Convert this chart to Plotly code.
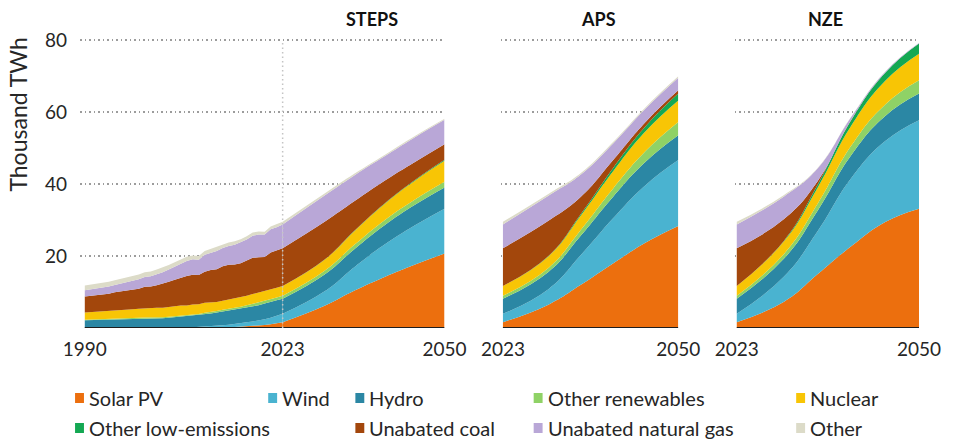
import plotly.graph_objects as go

# ---------------- data (thousand TWh) ----------------
hist_years = list(range(1990, 2024))
proj_years = [2023, 2030, 2035, 2040, 2045, 2050]

series_names = ["Solar PV", "Wind", "Hydro", "Other renewables", "Nuclear",
                "Other low-emissions", "Unabated coal", "Unabated natural gas", "Other"]
series_colors = ["#EC6F0E", "#4AB3D0", "#2B87A4", "#8FD266", "#F8C505",
                 "#14A853", "#A3470C", "#B9A7D7", "#DCDBC8"]

hist_solar = [0, 0, 0, 0, 0, 0, 0, 0, 0, 0, 0, 0, 0, 0, 0, 0, 0, 0, 0.01, 0.02,
              0.03, 0.06, 0.10, 0.14, 0.19, 0.25, 0.33, 0.44, 0.56, 0.68, 0.83, 1.02, 1.29, 1.63]
hist_wind = [0.00, 0.00, 0.00, 0.01, 0.01, 0.01, 0.01, 0.01, 0.02, 0.02, 0.03, 0.04, 0.05, 0.06,
             0.08, 0.10, 0.13, 0.17, 0.22, 0.28, 0.34, 0.44, 0.52, 0.64, 0.71, 0.83, 0.96, 1.13,
             1.27, 1.42, 1.59, 1.85, 2.10, 2.33]
hist_hydro = [2.16, 2.20, 2.20, 2.30, 2.30, 2.47, 2.50, 2.55, 2.58, 2.60, 2.66, 2.60, 2.65, 2.65,
              2.80, 2.92, 3.03, 3.08, 3.25, 3.25, 3.45, 3.50, 3.66, 3.79, 3.89, 3.89, 4.03, 4.07,
              4.20, 4.23, 4.36, 4.29, 4.33, 4.21]
hist_other_ren = [0.15, 0.15, 0.16, 0.17, 0.17, 0.18, 0.19, 0.20, 0.20, 0.21, 0.22, 0.22, 0.23,
                  0.25, 0.27, 0.28, 0.30, 0.32, 0.34, 0.36, 0.41, 0.44, 0.48, 0.52, 0.56, 0.59,
                  0.62, 0.66, 0.69, 0.72, 0.75, 0.78, 0.79, 0.80]
hist_nuclear = [2.00, 2.10, 2.12, 2.18, 2.23, 2.33, 2.41, 2.39, 2.43, 2.51, 2.59, 2.65, 2.69, 2.64,
                2.74, 2.77, 2.79, 2.72, 2.73, 2.70, 2.76, 2.58, 2.46, 2.48, 2.54, 2.57, 2.61, 2.64,
                2.71, 2.79, 2.69, 2.80, 2.68, 2.74]
hist_other_low = [0.0] * 34
hist_coal = [4.43, 4.50, 4.60, 4.75, 4.85, 4.95, 5.10, 5.30, 5.45, 5.60, 5.95, 6.00, 6.30, 6.70,
             6.95, 7.35, 7.75, 8.20, 8.25, 8.10, 8.65, 9.10, 9.15, 9.60, 9.70, 9.50, 9.45, 9.75,
             10.10, 9.85, 9.50, 10.25, 10.35, 10.50]
hist_gas = [1.75, 1.80, 1.82, 1.90, 1.95, 2.05, 2.15, 2.35, 2.45, 2.60, 2.75, 2.90, 3.05, 3.20,
            3.45, 3.65, 3.85, 4.15, 4.30, 4.30, 4.75, 4.80, 5.05, 5.05, 5.20, 5.50, 5.75, 5.90,
            6.15, 6.35, 6.30, 6.50, 6.50, 6.60]
hist_other = [1.35, 1.35, 1.35, 1.30, 1.32, 1.32, 1.35, 1.35, 1.40, 1.35, 1.33, 1.30, 1.30, 1.30,
              1.25, 1.20, 1.15, 1.15, 1.10, 1.05, 1.00, 1.10, 1.10, 1.05, 1.00, 1.00, 0.95, 0.90,
              0.85, 0.80, 0.75, 0.75, 0.75, 0.72]

# Scenario projections for 2030, 2035, 2040, 2045, 2050 (2023 comes from history)
steps_solar = [6.2, 10.4, 14.2, 17.6, 20.7]
steps_wind = [4.0, 6.6, 9.0, 10.9, 12.5]
steps_hydro = [4.7, 5.0, 5.4, 5.7, 5.9]
steps_other_ren = [1.0, 1.2, 1.4, 1.5, 1.6]
steps_nuclear = [3.1, 3.8, 4.5, 5.2, 5.8]
steps_other_low = [0.05, 0.1, 0.15, 0.2, 0.3]
steps_coal = [10.5, 8.2, 6.3, 5.0, 4.3]
steps_gas = [7.3, 7.2, 6.8, 6.9, 6.8]
steps_other = [0.55, 0.45, 0.4, 0.35, 0.3]

aps_solar = [6.5, 12.0, 18.0, 23.8, 28.4]
aps_wind = [4.3, 8.3, 12.6, 16.0, 18.3]
aps_hydro = [4.8, 5.4, 6.0, 6.5, 6.9]
aps_other_ren = [1.1, 1.6, 2.3, 3.0, 3.7]
aps_nuclear = [3.2, 4.0, 4.8, 5.5, 6.0]
aps_other_low = [0.1, 0.4, 0.9, 1.4, 1.9]
aps_coal = [9.8, 4.8, 2.2, 1.2, 0.9]
aps_gas = [7.0, 6.2, 4.6, 3.7, 3.5]
aps_other = [0.5, 0.4, 0.4, 0.4, 0.4]

nze_solar = [7.3, 15.0, 22.8, 29.5, 33.2]
nze_wind = [7.0, 12.0, 19.0, 22.5, 24.6]
nze_hydro = [5.0, 5.7, 6.4, 7.0, 7.4]
nze_other_ren = [1.3, 1.9, 2.6, 3.2, 3.7]
nze_nuclear = [3.5, 4.5, 5.6, 6.6, 7.4]
nze_other_low = [0.2, 0.8, 1.5, 2.2, 2.8]
nze_coal = [6.0, 1.0, 0.1, 0.0, 0.0]
nze_gas = [6.3, 3.5, 0.8, 0.3, 0.15]
nze_other = [0.4, 0.2, 0.1, 0.05, 0.0]

hist = [hist_solar, hist_wind, hist_hydro, hist_other_ren, hist_nuclear,
        hist_other_low, hist_coal, hist_gas, hist_other]
steps = [steps_solar, steps_wind, steps_hydro, steps_other_ren, steps_nuclear,
         steps_other_low, steps_coal, steps_gas, steps_other]
aps = [aps_solar, aps_wind, aps_hydro, aps_other_ren, aps_nuclear,
       aps_other_low, aps_coal, aps_gas, aps_other]
nze = [nze_solar, nze_wind, nze_hydro, nze_other_ren, nze_nuclear,
       nze_other_low, nze_coal, nze_gas, nze_other]

panel_titles = ["STEPS", "APS", "NZE"]
y_ticks = [20, 40, 60, 80]

# ---------------- layout geometry ----------------
W, H = 953, 443
ML, MR, MT, MB = 80, 26, 26, 115
PW, PH = W - ML - MR, H - MT - MB
FONT = "Lato, 'Open Sans', sans-serif"
TXT = "#262626"


def px_x(px):
    return (px - ML) / PW


def px_y(py):
    return (H - MB - py) / PH


fig = go.Figure()


def add_stack(xs, ys_list, xaxis, yaxis, group, shape):
    for name, color, ys in zip(series_names, series_colors, ys_list):
        fig.add_trace(go.Scatter(
            x=xs, y=ys, mode="lines", stackgroup=group, name=name,
            line=dict(width=0, color=color, shape=shape, smoothing=1.3),
            fillcolor=color, showlegend=False, hoverinfo="x+y+name",
            xaxis=xaxis, yaxis=yaxis))


# STEPS panel: history, then the projection from 2023
add_stack(hist_years, hist, "x", "y", "hist", "linear")
steps_y = [[h[-1]] + p for h, p in zip(hist, steps)]
add_stack(proj_years, steps_y, "x", "y", "steps", "spline")

# APS / NZE start from the 2023 value
aps_y = [[h[-1]] + p for h, p in zip(hist, aps)]
nze_y = [[h[-1]] + p for h, p in zip(hist, nze)]
add_stack(proj_years, aps_y, "x2", "y2", "aps", "spline")
add_stack(proj_years, nze_y, "x3", "y3", "nze", "spline")

grid = dict(showgrid=True, gridcolor="#9C9C9C", griddash="1.5px,3px", gridwidth=1.5,
            zeroline=False, range=[0, 84], tickvals=y_ticks, fixedrange=True)
xcommon = dict(ticks="", showgrid=False, zeroline=False, ticklabelstandoff=8,
               tickfont=dict(size=19))

fig.update_layout(
    width=W, height=H, autosize=False,
    margin=dict(l=ML, r=MR, t=MT, b=MB),
    paper_bgcolor="white", plot_bgcolor="white",
    font=dict(family=FONT, size=19, color=TXT),
    showlegend=False,
    xaxis=dict(domain=[px_x(80), px_x(448)], range=[1989.2, 2050],
               tickvals=[1990, 2023, 2050], **xcommon),
    xaxis2=dict(domain=[px_x(505), px_x(684)], range=[2022.7, 2050],
                tickvals=[2023, 2050], **xcommon),
    xaxis3=dict(domain=[px_x(741), 1.0], range=[2022.7, 2050],
                tickvals=[2023, 2050], **xcommon),
    yaxis=dict(**grid, anchor="x", ticks="", ticklabelstandoff=12),
    yaxis2=dict(**grid, anchor="x2", showticklabels=False),
    yaxis3=dict(**grid, anchor="x3", showticklabels=False),
)

# baseline under each panel
for xr, yr in [("x", "y"), ("x2", "y2"), ("x3", "y3")]:
    x0 = 1990 if xr == "x" else 2023
    fig.add_shape(type="line", xref=xr, yref=yr, x0=x0, x1=2050, y0=0, y1=0,
                  line=dict(color="#1E1E1E", width=2), layer="above")

# 2023 marker in the STEPS panel
fig.add_shape(type="line", xref="x", yref="y", x0=2023, x1=2023, y0=0, y1=80,
              line=dict(color="#C4C4C4", width=1.5, dash="1.5px,3px"), layer="above")

# panel titles
for title, cx in zip(panel_titles, [375, 603, 833]):
    fig.add_annotation(x=px_x(cx), y=px_y(19), xref="paper", yref="paper",
                       text="<b>%s</b>" % title, showarrow=False,
                       font=dict(size=18, color="#111111", family=FONT),
                       xanchor="center", yanchor="middle")

# y-axis title
fig.add_annotation(x=px_x(17), y=px_y(114), xref="paper", yref="paper",
                   text="Thousand TWh", textangle=-90, showarrow=False,
                   font=dict(size=23, color=TXT, family=FONT),
                   xanchor="center", yanchor="middle")

# legend: two rows of colour swatches + labels
legend_pos = [(75, 398), (270, 398), (358, 398), (538, 398), (803, 398),
              (75, 428), (358, 428), (538, 428), (803, 428)]
for idx, (lx, ly) in enumerate(legend_pos):
    fig.add_shape(type="rect", xref="paper", yref="paper",
                  x0=px_x(lx), x1=px_x(lx + 9), y0=px_y(ly + 5), y1=px_y(ly - 5),
                  fillcolor=series_colors[idx], line=dict(width=0))
    fig.add_annotation(x=px_x(lx + 12), y=px_y(ly), xref="paper", yref="paper",
                       text=series_names[idx], showarrow=False,
                       font=dict(size=20, color=TXT, family=FONT),
                       xanchor="left", yanchor="middle")

fig.write_html("out.html")
